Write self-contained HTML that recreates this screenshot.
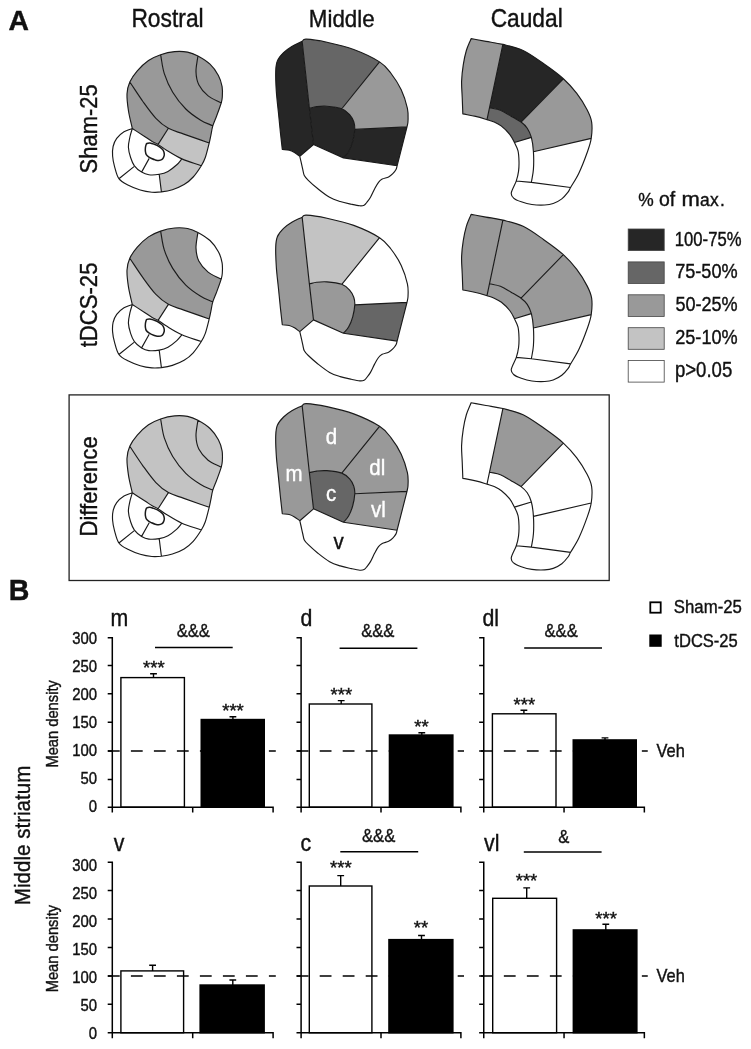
<!DOCTYPE html>
<html><head><meta charset="utf-8"><title>Figure</title>
<style>
html,body{margin:0;padding:0;background:#fff;}
body{width:751px;height:1049px;overflow:hidden;font-family:"Liberation Sans",sans-serif;}
svg{display:block;will-change:transform;}
svg text{font-family:"Liberation Sans",sans-serif;fill:#111;stroke:#111;stroke-width:.4px;}
</style></head><body>
<svg width="751" height="1049" viewBox="0 0 751 1049">
<rect width="751" height="1049" fill="#fff"/>
<!-- Panel A -->
<text x="8.41" y="30.1" font-size="28.3" textLength="20.44" lengthAdjust="spacingAndGlyphs" font-weight="bold">A</text>
<text x="131.42" y="27" font-size="25.08" textLength="72.22" lengthAdjust="spacingAndGlyphs">Rostral</text>
<text x="308.86" y="27" font-size="24.57" textLength="65.81" lengthAdjust="spacingAndGlyphs">Middle</text>
<text x="490.66" y="27" font-size="25.01" textLength="72.05" lengthAdjust="spacingAndGlyphs">Caudal</text>
<text x="97" y="173.39" font-size="24.15" textLength="89.07" lengthAdjust="spacingAndGlyphs" transform="rotate(-90 97 173.39)">Sham-25</text>
<text x="97" y="347.33" font-size="24.32" textLength="84.76" lengthAdjust="spacingAndGlyphs" transform="rotate(-90 97 347.33)">tDCS-25</text>
<text x="96.6" y="536.52" font-size="24.28" textLength="100.21" lengthAdjust="spacingAndGlyphs" transform="rotate(-90 96.6 536.52)">Difference</text>
<rect x="69.1" y="394.9" width="540.1" height="185.6" fill="none" stroke="#222" stroke-width="1.3"/>
<g transform="translate(0 0)">
<path d="M132.3 128.5C131.03 122.67 129.38 116.75 128.5 111C127.62 105.25 126.78 98.83 127 94C127.22 89.17 128.08 85.87 129.8 82C131.52 78.13 134.18 74.38 137.3 70.8C140.42 67.22 144.62 63.18 148.5 60.5C152.38 57.82 156.25 56.18 160.6 54.7C164.95 53.22 170.1 52.03 174.6 51.6C179.1 51.17 183.72 51.37 187.6 52.1C191.48 52.83 194.17 53.98 197.9 56C201.63 58.02 206.58 60.97 210 64.2C213.42 67.43 216.38 71.67 218.4 75.4C220.42 79.13 221.45 83 222.1 86.6C222.75 90.2 222.45 94.27 222.3 97C222.15 99.73 222.12 99.92 221.2 103C220.28 106.08 218.2 111.7 216.8 115.5C215.4 119.3 213.78 122.53 212.8 125.8C211.82 129.07 211.5 132.23 210.9 135.1C210.3 137.97 210.13 139.27 209.2 143C208.27 146.73 206.62 153.72 205.3 157.5C203.98 161.28 203.32 162.45 201.3 165.7C199.28 168.95 196.07 173.85 193.2 177C190.33 180.15 187.57 182.48 184.1 184.6C180.63 186.72 176.18 188.48 172.4 189.7C168.62 190.92 164.82 191.48 161.4 191.9C157.98 192.32 155.43 192.52 151.9 192.2C148.37 191.88 144.12 191.15 140.2 190C136.28 188.85 131.95 187.18 128.4 185.3C124.85 183.42 121.22 181.87 118.9 178.7C116.58 175.53 115.55 170.08 114.5 166.3C113.45 162.52 112.83 159.3 112.6 156C112.37 152.7 112.42 149.43 113.1 146.5C113.78 143.57 114.88 140.85 116.7 138.4C118.52 135.95 121.4 133.45 124 131.8C126.6 130.15 129.53 129.6 132.3 128.5Z" fill="#fff"/>
<path d="M197.9 56C201.63 58.02 206.58 60.97 210 64.2C213.42 67.43 216.38 71.67 218.4 75.4C220.42 79.13 221.45 83 222.1 86.6C222.75 90.2 222.45 94.27 222.3 97C222.15 99.73 222.12 99.92 221.2 103C216.83 100.63 211.83 98.95 208.1 95.9C204.37 92.85 200.82 88.73 198.8 84.7C196.78 80.67 196.15 76.48 196 71.7C195.85 66.92 197.27 61.23 197.9 56Z" fill="#999999"/>
<path d="M160.6 54.7C164.95 53.22 170.1 52.03 174.6 51.6C179.1 51.17 183.72 51.37 187.6 52.1C191.48 52.83 194.17 53.98 197.9 56C197.27 61.23 195.85 66.92 196 71.7C196.15 76.48 196.78 80.67 198.8 84.7C200.82 88.73 204.37 92.85 208.1 95.9C211.83 98.95 216.83 100.63 221.2 103C220.28 106.08 218.2 111.7 216.8 115.5C215.4 119.3 213.78 122.53 212.8 125.8C208.77 123.93 205.2 123 200.7 120.2C196.2 117.4 190.47 113.67 185.8 109C181.13 104.33 176.28 98.1 172.7 92.2C169.12 86.3 166.32 79.85 164.3 73.6C162.28 67.35 161.83 61 160.6 54.7Z" fill="#999999"/>
<path d="M129.8 82C131.52 78.13 134.18 74.38 137.3 70.8C140.42 67.22 144.62 63.18 148.5 60.5C152.38 57.82 156.25 56.18 160.6 54.7C161.83 61 162.28 67.35 164.3 73.6C166.32 79.85 169.12 86.3 172.7 92.2C176.28 98.1 181.13 104.33 185.8 109C190.47 113.67 196.2 117.4 200.7 120.2C205.2 123 208.77 123.93 212.8 125.8C211.82 129.07 211.5 132.23 210.9 135.1C210.3 137.97 210.13 139.27 209.2 143C200.77 140.03 190.7 136.55 183.9 134.1C177.1 131.65 173.07 130.93 168.4 128.3C163.73 125.67 160.15 122.77 155.9 118.3C151.65 113.83 147.25 107.55 142.9 101.5C138.55 95.45 134.17 88.5 129.8 82Z" fill="#999999"/>
<path d="M132.3 128.5C131.03 122.67 129.38 116.75 128.5 111C127.62 105.25 126.78 98.83 127 94C127.22 89.17 128.08 85.87 129.8 82C134.17 88.5 138.55 95.45 142.9 101.5C147.25 107.55 151.65 113.83 155.9 118.3C160.15 122.77 163.73 125.67 168.4 128.3L158.1 144.4C155.65 142.92 153.98 142.58 151.8 141.3C149.62 140.02 148.25 138.83 145 136.7C141.75 134.57 136.53 131.23 132.3 128.5Z" fill="#999999"/>
<path d="M168.4 128.3C173.07 130.93 177.1 131.65 183.9 134.1C190.7 136.55 200.77 140.03 209.2 143C208.27 146.73 206.62 153.72 205.3 157.5C203.98 161.28 203.32 162.45 201.3 165.7C194.83 163.43 187.7 161.48 181.9 158.9C176.1 156.32 170.47 152.62 166.5 150.2C162.53 147.78 160.55 145.88 158.1 144.4Z" fill="#c3c3c3"/>
<path d="M201.3 165.7C199.28 168.95 196.07 173.85 193.2 177C190.33 180.15 187.57 182.48 184.1 184.6C180.63 186.72 176.18 188.48 172.4 189.7C168.62 190.92 164.82 191.48 161.4 191.9L159.2 174.3C162.38 173.73 165.07 172.98 168 171.4C170.93 169.82 174.48 166.88 176.8 164.8C179.12 162.72 180.2 160.87 181.9 158.9C187.7 161.48 194.83 163.43 201.3 165.7Z" fill="#c3c3c3"/>
<path d="M132.3 128.5C131.03 122.67 129.38 116.75 128.5 111C127.62 105.25 126.78 98.83 127 94C127.22 89.17 128.08 85.87 129.8 82C131.52 78.13 134.18 74.38 137.3 70.8C140.42 67.22 144.62 63.18 148.5 60.5C152.38 57.82 156.25 56.18 160.6 54.7C164.95 53.22 170.1 52.03 174.6 51.6C179.1 51.17 183.72 51.37 187.6 52.1C191.48 52.83 194.17 53.98 197.9 56C201.63 58.02 206.58 60.97 210 64.2C213.42 67.43 216.38 71.67 218.4 75.4C220.42 79.13 221.45 83 222.1 86.6C222.75 90.2 222.45 94.27 222.3 97C222.15 99.73 222.12 99.92 221.2 103C220.28 106.08 218.2 111.7 216.8 115.5C215.4 119.3 213.78 122.53 212.8 125.8C211.82 129.07 211.5 132.23 210.9 135.1C210.3 137.97 210.13 139.27 209.2 143C208.27 146.73 206.62 153.72 205.3 157.5C203.98 161.28 203.32 162.45 201.3 165.7C199.28 168.95 196.07 173.85 193.2 177C190.33 180.15 187.57 182.48 184.1 184.6C180.63 186.72 176.18 188.48 172.4 189.7C168.62 190.92 164.82 191.48 161.4 191.9C157.98 192.32 155.43 192.52 151.9 192.2C148.37 191.88 144.12 191.15 140.2 190C136.28 188.85 131.95 187.18 128.4 185.3C124.85 183.42 121.22 181.87 118.9 178.7C116.58 175.53 115.55 170.08 114.5 166.3C113.45 162.52 112.83 159.3 112.6 156C112.37 152.7 112.42 149.43 113.1 146.5C113.78 143.57 114.88 140.85 116.7 138.4C118.52 135.95 121.4 133.45 124 131.8C126.6 130.15 129.53 129.6 132.3 128.5M197.9 56C197.27 61.23 195.85 66.92 196 71.7C196.15 76.48 196.78 80.67 198.8 84.7C200.82 88.73 204.37 92.85 208.1 95.9C211.83 98.95 216.83 100.63 221.2 103M160.6 54.7C161.83 61 162.28 67.35 164.3 73.6C166.32 79.85 169.12 86.3 172.7 92.2C176.28 98.1 181.13 104.33 185.8 109C190.47 113.67 196.2 117.4 200.7 120.2C205.2 123 208.77 123.93 212.8 125.8M129.8 82C134.17 88.5 138.55 95.45 142.9 101.5C147.25 107.55 151.65 113.83 155.9 118.3C160.15 122.77 163.73 125.67 168.4 128.3C173.07 130.93 177.1 131.65 183.9 134.1C190.7 136.55 200.77 140.03 209.2 143M132.3 128.5C136.53 131.23 141.75 134.57 145 136.7C148.25 138.83 149.62 140.02 151.8 141.3C153.98 142.58 155.65 142.92 158.1 144.4C160.55 145.88 162.53 147.78 166.5 150.2C170.47 152.62 176.1 156.32 181.9 158.9C187.7 161.48 194.83 163.43 201.3 165.7M132.3 128.5C131.5 131.33 130.55 133.88 129.9 137C129.25 140.12 128.28 143.78 128.4 147.2C128.52 150.62 129.6 154.4 130.6 157.5C131.6 160.6 132.57 163.37 134.4 165.8C136.23 168.23 139.18 170.6 141.6 172.1C144.02 173.6 145.97 174.43 148.9 174.8C151.83 175.17 156.02 174.87 159.2 174.3C162.38 173.73 165.07 172.98 168 171.4C170.93 169.82 174.48 166.88 176.8 164.8C179.12 162.72 180.2 160.87 181.9 158.9M168.4 128.3L158.1 144.4M118.9 178.7L134 166.6M141.6 172.1L149.2 158.4M159.2 174.3L161.4 191.9" fill="none" stroke="#1a1a1a" stroke-width="1.15" stroke-linejoin="round"/>
<path d="M146.9 143.5C147.53 143.17 148.75 142.93 149.8 143C150.85 143.07 152 143.52 153.2 143.9C154.4 144.28 155.77 144.67 157 145.3C158.23 145.93 159.58 146.9 160.6 147.7C161.62 148.5 162.48 149.03 163.1 150.1C163.72 151.17 164.22 152.9 164.3 154.1C164.38 155.3 163.97 156.42 163.6 157.3C163.23 158.18 162.9 158.87 162.1 159.4C161.3 159.93 159.95 160.42 158.8 160.5C157.65 160.58 156.4 160.23 155.2 159.9C154 159.57 152.65 158.97 151.6 158.5C150.55 158.03 149.78 157.75 148.9 157.1C148.02 156.45 146.88 155.55 146.3 154.6C145.72 153.65 145.55 152.53 145.4 151.4C145.25 150.27 145.3 148.87 145.4 147.8C145.5 146.73 145.75 145.72 146 145C146.25 144.28 146.27 143.83 146.9 143.5Z" fill="#fff" stroke="#1a1a1a" stroke-width="1.5"/>
</g>
<g transform="translate(0 367.7) scale(1 0.9950) translate(0 -192)">
<path d="M132.3 128.5C131.03 122.67 129.38 116.75 128.5 111C127.62 105.25 126.78 98.83 127 94C127.22 89.17 128.08 85.87 129.8 82C131.52 78.13 134.18 74.38 137.3 70.8C140.42 67.22 144.62 63.18 148.5 60.5C152.38 57.82 156.25 56.18 160.6 54.7C164.95 53.22 170.1 52.03 174.6 51.6C179.1 51.17 183.72 51.37 187.6 52.1C191.48 52.83 194.17 53.98 197.9 56C201.63 58.02 206.58 60.97 210 64.2C213.42 67.43 216.38 71.67 218.4 75.4C220.42 79.13 221.45 83 222.1 86.6C222.75 90.2 222.45 94.27 222.3 97C222.15 99.73 222.12 99.92 221.2 103C220.28 106.08 218.2 111.7 216.8 115.5C215.4 119.3 213.78 122.53 212.8 125.8C211.82 129.07 211.5 132.23 210.9 135.1C210.3 137.97 210.13 139.27 209.2 143C208.27 146.73 206.62 153.72 205.3 157.5C203.98 161.28 203.32 162.45 201.3 165.7C199.28 168.95 196.07 173.85 193.2 177C190.33 180.15 187.57 182.48 184.1 184.6C180.63 186.72 176.18 188.48 172.4 189.7C168.62 190.92 164.82 191.48 161.4 191.9C157.98 192.32 155.43 192.52 151.9 192.2C148.37 191.88 144.12 191.15 140.2 190C136.28 188.85 131.95 187.18 128.4 185.3C124.85 183.42 121.22 181.87 118.9 178.7C116.58 175.53 115.55 170.08 114.5 166.3C113.45 162.52 112.83 159.3 112.6 156C112.37 152.7 112.42 149.43 113.1 146.5C113.78 143.57 114.88 140.85 116.7 138.4C118.52 135.95 121.4 133.45 124 131.8C126.6 130.15 129.53 129.6 132.3 128.5Z" fill="#fff"/>
<path d="M160.6 54.7C164.95 53.22 170.1 52.03 174.6 51.6C179.1 51.17 183.72 51.37 187.6 52.1C191.48 52.83 194.17 53.98 197.9 56C197.27 61.23 195.85 66.92 196 71.7C196.15 76.48 196.78 80.67 198.8 84.7C200.82 88.73 204.37 92.85 208.1 95.9C211.83 98.95 216.83 100.63 221.2 103C220.28 106.08 218.2 111.7 216.8 115.5C215.4 119.3 213.78 122.53 212.8 125.8C208.77 123.93 205.2 123 200.7 120.2C196.2 117.4 190.47 113.67 185.8 109C181.13 104.33 176.28 98.1 172.7 92.2C169.12 86.3 166.32 79.85 164.3 73.6C162.28 67.35 161.83 61 160.6 54.7Z" fill="#999999"/>
<path d="M129.8 82C131.52 78.13 134.18 74.38 137.3 70.8C140.42 67.22 144.62 63.18 148.5 60.5C152.38 57.82 156.25 56.18 160.6 54.7C161.83 61 162.28 67.35 164.3 73.6C166.32 79.85 169.12 86.3 172.7 92.2C176.28 98.1 181.13 104.33 185.8 109C190.47 113.67 196.2 117.4 200.7 120.2C205.2 123 208.77 123.93 212.8 125.8C211.82 129.07 211.5 132.23 210.9 135.1C210.3 137.97 210.13 139.27 209.2 143C200.77 140.03 190.7 136.55 183.9 134.1C177.1 131.65 173.07 130.93 168.4 128.3C163.73 125.67 160.15 122.77 155.9 118.3C151.65 113.83 147.25 107.55 142.9 101.5C138.55 95.45 134.17 88.5 129.8 82Z" fill="#999999"/>
<path d="M132.3 128.5C131.03 122.67 129.38 116.75 128.5 111C127.62 105.25 126.78 98.83 127 94C127.22 89.17 128.08 85.87 129.8 82C134.17 88.5 138.55 95.45 142.9 101.5C147.25 107.55 151.65 113.83 155.9 118.3C160.15 122.77 163.73 125.67 168.4 128.3L158.1 144.4C155.65 142.92 153.98 142.58 151.8 141.3C149.62 140.02 148.25 138.83 145 136.7C141.75 134.57 136.53 131.23 132.3 128.5Z" fill="#c3c3c3"/>
<path d="M132.3 128.5C131.03 122.67 129.38 116.75 128.5 111C127.62 105.25 126.78 98.83 127 94C127.22 89.17 128.08 85.87 129.8 82C131.52 78.13 134.18 74.38 137.3 70.8C140.42 67.22 144.62 63.18 148.5 60.5C152.38 57.82 156.25 56.18 160.6 54.7C164.95 53.22 170.1 52.03 174.6 51.6C179.1 51.17 183.72 51.37 187.6 52.1C191.48 52.83 194.17 53.98 197.9 56C201.63 58.02 206.58 60.97 210 64.2C213.42 67.43 216.38 71.67 218.4 75.4C220.42 79.13 221.45 83 222.1 86.6C222.75 90.2 222.45 94.27 222.3 97C222.15 99.73 222.12 99.92 221.2 103C220.28 106.08 218.2 111.7 216.8 115.5C215.4 119.3 213.78 122.53 212.8 125.8C211.82 129.07 211.5 132.23 210.9 135.1C210.3 137.97 210.13 139.27 209.2 143C208.27 146.73 206.62 153.72 205.3 157.5C203.98 161.28 203.32 162.45 201.3 165.7C199.28 168.95 196.07 173.85 193.2 177C190.33 180.15 187.57 182.48 184.1 184.6C180.63 186.72 176.18 188.48 172.4 189.7C168.62 190.92 164.82 191.48 161.4 191.9C157.98 192.32 155.43 192.52 151.9 192.2C148.37 191.88 144.12 191.15 140.2 190C136.28 188.85 131.95 187.18 128.4 185.3C124.85 183.42 121.22 181.87 118.9 178.7C116.58 175.53 115.55 170.08 114.5 166.3C113.45 162.52 112.83 159.3 112.6 156C112.37 152.7 112.42 149.43 113.1 146.5C113.78 143.57 114.88 140.85 116.7 138.4C118.52 135.95 121.4 133.45 124 131.8C126.6 130.15 129.53 129.6 132.3 128.5M197.9 56C197.27 61.23 195.85 66.92 196 71.7C196.15 76.48 196.78 80.67 198.8 84.7C200.82 88.73 204.37 92.85 208.1 95.9C211.83 98.95 216.83 100.63 221.2 103M160.6 54.7C161.83 61 162.28 67.35 164.3 73.6C166.32 79.85 169.12 86.3 172.7 92.2C176.28 98.1 181.13 104.33 185.8 109C190.47 113.67 196.2 117.4 200.7 120.2C205.2 123 208.77 123.93 212.8 125.8M129.8 82C134.17 88.5 138.55 95.45 142.9 101.5C147.25 107.55 151.65 113.83 155.9 118.3C160.15 122.77 163.73 125.67 168.4 128.3C173.07 130.93 177.1 131.65 183.9 134.1C190.7 136.55 200.77 140.03 209.2 143M132.3 128.5C136.53 131.23 141.75 134.57 145 136.7C148.25 138.83 149.62 140.02 151.8 141.3C153.98 142.58 155.65 142.92 158.1 144.4C160.55 145.88 162.53 147.78 166.5 150.2C170.47 152.62 176.1 156.32 181.9 158.9C187.7 161.48 194.83 163.43 201.3 165.7M132.3 128.5C131.5 131.33 130.55 133.88 129.9 137C129.25 140.12 128.28 143.78 128.4 147.2C128.52 150.62 129.6 154.4 130.6 157.5C131.6 160.6 132.57 163.37 134.4 165.8C136.23 168.23 139.18 170.6 141.6 172.1C144.02 173.6 145.97 174.43 148.9 174.8C151.83 175.17 156.02 174.87 159.2 174.3C162.38 173.73 165.07 172.98 168 171.4C170.93 169.82 174.48 166.88 176.8 164.8C179.12 162.72 180.2 160.87 181.9 158.9M168.4 128.3L158.1 144.4M118.9 178.7L134 166.6M141.6 172.1L149.2 158.4M159.2 174.3L161.4 191.9" fill="none" stroke="#1a1a1a" stroke-width="1.15" stroke-linejoin="round"/>
<path d="M146.9 143.5C147.53 143.17 148.75 142.93 149.8 143C150.85 143.07 152 143.52 153.2 143.9C154.4 144.28 155.77 144.67 157 145.3C158.23 145.93 159.58 146.9 160.6 147.7C161.62 148.5 162.48 149.03 163.1 150.1C163.72 151.17 164.22 152.9 164.3 154.1C164.38 155.3 163.97 156.42 163.6 157.3C163.23 158.18 162.9 158.87 162.1 159.4C161.3 159.93 159.95 160.42 158.8 160.5C157.65 160.58 156.4 160.23 155.2 159.9C154 159.57 152.65 158.97 151.6 158.5C150.55 158.03 149.78 157.75 148.9 157.1C148.02 156.45 146.88 155.55 146.3 154.6C145.72 153.65 145.55 152.53 145.4 151.4C145.25 150.27 145.3 148.87 145.4 147.8C145.5 146.73 145.75 145.72 146 145C146.25 144.28 146.27 143.83 146.9 143.5Z" fill="#fff" stroke="#1a1a1a" stroke-width="1.5"/>
</g>
<g transform="translate(0 364.3)">
<path d="M132.3 128.5C131.03 122.67 129.38 116.75 128.5 111C127.62 105.25 126.78 98.83 127 94C127.22 89.17 128.08 85.87 129.8 82C131.52 78.13 134.18 74.38 137.3 70.8C140.42 67.22 144.62 63.18 148.5 60.5C152.38 57.82 156.25 56.18 160.6 54.7C164.95 53.22 170.1 52.03 174.6 51.6C179.1 51.17 183.72 51.37 187.6 52.1C191.48 52.83 194.17 53.98 197.9 56C201.63 58.02 206.58 60.97 210 64.2C213.42 67.43 216.38 71.67 218.4 75.4C220.42 79.13 221.45 83 222.1 86.6C222.75 90.2 222.45 94.27 222.3 97C222.15 99.73 222.12 99.92 221.2 103C220.28 106.08 218.2 111.7 216.8 115.5C215.4 119.3 213.78 122.53 212.8 125.8C211.82 129.07 211.5 132.23 210.9 135.1C210.3 137.97 210.13 139.27 209.2 143C208.27 146.73 206.62 153.72 205.3 157.5C203.98 161.28 203.32 162.45 201.3 165.7C199.28 168.95 196.07 173.85 193.2 177C190.33 180.15 187.57 182.48 184.1 184.6C180.63 186.72 176.18 188.48 172.4 189.7C168.62 190.92 164.82 191.48 161.4 191.9C157.98 192.32 155.43 192.52 151.9 192.2C148.37 191.88 144.12 191.15 140.2 190C136.28 188.85 131.95 187.18 128.4 185.3C124.85 183.42 121.22 181.87 118.9 178.7C116.58 175.53 115.55 170.08 114.5 166.3C113.45 162.52 112.83 159.3 112.6 156C112.37 152.7 112.42 149.43 113.1 146.5C113.78 143.57 114.88 140.85 116.7 138.4C118.52 135.95 121.4 133.45 124 131.8C126.6 130.15 129.53 129.6 132.3 128.5Z" fill="#fff"/>
<path d="M197.9 56C201.63 58.02 206.58 60.97 210 64.2C213.42 67.43 216.38 71.67 218.4 75.4C220.42 79.13 221.45 83 222.1 86.6C222.75 90.2 222.45 94.27 222.3 97C222.15 99.73 222.12 99.92 221.2 103C216.83 100.63 211.83 98.95 208.1 95.9C204.37 92.85 200.82 88.73 198.8 84.7C196.78 80.67 196.15 76.48 196 71.7C195.85 66.92 197.27 61.23 197.9 56Z" fill="#c3c3c3"/>
<path d="M160.6 54.7C164.95 53.22 170.1 52.03 174.6 51.6C179.1 51.17 183.72 51.37 187.6 52.1C191.48 52.83 194.17 53.98 197.9 56C197.27 61.23 195.85 66.92 196 71.7C196.15 76.48 196.78 80.67 198.8 84.7C200.82 88.73 204.37 92.85 208.1 95.9C211.83 98.95 216.83 100.63 221.2 103C220.28 106.08 218.2 111.7 216.8 115.5C215.4 119.3 213.78 122.53 212.8 125.8C208.77 123.93 205.2 123 200.7 120.2C196.2 117.4 190.47 113.67 185.8 109C181.13 104.33 176.28 98.1 172.7 92.2C169.12 86.3 166.32 79.85 164.3 73.6C162.28 67.35 161.83 61 160.6 54.7Z" fill="#c3c3c3"/>
<path d="M129.8 82C131.52 78.13 134.18 74.38 137.3 70.8C140.42 67.22 144.62 63.18 148.5 60.5C152.38 57.82 156.25 56.18 160.6 54.7C161.83 61 162.28 67.35 164.3 73.6C166.32 79.85 169.12 86.3 172.7 92.2C176.28 98.1 181.13 104.33 185.8 109C190.47 113.67 196.2 117.4 200.7 120.2C205.2 123 208.77 123.93 212.8 125.8C211.82 129.07 211.5 132.23 210.9 135.1C210.3 137.97 210.13 139.27 209.2 143C200.77 140.03 190.7 136.55 183.9 134.1C177.1 131.65 173.07 130.93 168.4 128.3C163.73 125.67 160.15 122.77 155.9 118.3C151.65 113.83 147.25 107.55 142.9 101.5C138.55 95.45 134.17 88.5 129.8 82Z" fill="#c3c3c3"/>
<path d="M132.3 128.5C131.03 122.67 129.38 116.75 128.5 111C127.62 105.25 126.78 98.83 127 94C127.22 89.17 128.08 85.87 129.8 82C134.17 88.5 138.55 95.45 142.9 101.5C147.25 107.55 151.65 113.83 155.9 118.3C160.15 122.77 163.73 125.67 168.4 128.3L158.1 144.4C155.65 142.92 153.98 142.58 151.8 141.3C149.62 140.02 148.25 138.83 145 136.7C141.75 134.57 136.53 131.23 132.3 128.5Z" fill="#c3c3c3"/>
<path d="M132.3 128.5C131.03 122.67 129.38 116.75 128.5 111C127.62 105.25 126.78 98.83 127 94C127.22 89.17 128.08 85.87 129.8 82C131.52 78.13 134.18 74.38 137.3 70.8C140.42 67.22 144.62 63.18 148.5 60.5C152.38 57.82 156.25 56.18 160.6 54.7C164.95 53.22 170.1 52.03 174.6 51.6C179.1 51.17 183.72 51.37 187.6 52.1C191.48 52.83 194.17 53.98 197.9 56C201.63 58.02 206.58 60.97 210 64.2C213.42 67.43 216.38 71.67 218.4 75.4C220.42 79.13 221.45 83 222.1 86.6C222.75 90.2 222.45 94.27 222.3 97C222.15 99.73 222.12 99.92 221.2 103C220.28 106.08 218.2 111.7 216.8 115.5C215.4 119.3 213.78 122.53 212.8 125.8C211.82 129.07 211.5 132.23 210.9 135.1C210.3 137.97 210.13 139.27 209.2 143C208.27 146.73 206.62 153.72 205.3 157.5C203.98 161.28 203.32 162.45 201.3 165.7C199.28 168.95 196.07 173.85 193.2 177C190.33 180.15 187.57 182.48 184.1 184.6C180.63 186.72 176.18 188.48 172.4 189.7C168.62 190.92 164.82 191.48 161.4 191.9C157.98 192.32 155.43 192.52 151.9 192.2C148.37 191.88 144.12 191.15 140.2 190C136.28 188.85 131.95 187.18 128.4 185.3C124.85 183.42 121.22 181.87 118.9 178.7C116.58 175.53 115.55 170.08 114.5 166.3C113.45 162.52 112.83 159.3 112.6 156C112.37 152.7 112.42 149.43 113.1 146.5C113.78 143.57 114.88 140.85 116.7 138.4C118.52 135.95 121.4 133.45 124 131.8C126.6 130.15 129.53 129.6 132.3 128.5M197.9 56C197.27 61.23 195.85 66.92 196 71.7C196.15 76.48 196.78 80.67 198.8 84.7C200.82 88.73 204.37 92.85 208.1 95.9C211.83 98.95 216.83 100.63 221.2 103M160.6 54.7C161.83 61 162.28 67.35 164.3 73.6C166.32 79.85 169.12 86.3 172.7 92.2C176.28 98.1 181.13 104.33 185.8 109C190.47 113.67 196.2 117.4 200.7 120.2C205.2 123 208.77 123.93 212.8 125.8M129.8 82C134.17 88.5 138.55 95.45 142.9 101.5C147.25 107.55 151.65 113.83 155.9 118.3C160.15 122.77 163.73 125.67 168.4 128.3C173.07 130.93 177.1 131.65 183.9 134.1C190.7 136.55 200.77 140.03 209.2 143M132.3 128.5C136.53 131.23 141.75 134.57 145 136.7C148.25 138.83 149.62 140.02 151.8 141.3C153.98 142.58 155.65 142.92 158.1 144.4C160.55 145.88 162.53 147.78 166.5 150.2C170.47 152.62 176.1 156.32 181.9 158.9C187.7 161.48 194.83 163.43 201.3 165.7M132.3 128.5C131.5 131.33 130.55 133.88 129.9 137C129.25 140.12 128.28 143.78 128.4 147.2C128.52 150.62 129.6 154.4 130.6 157.5C131.6 160.6 132.57 163.37 134.4 165.8C136.23 168.23 139.18 170.6 141.6 172.1C144.02 173.6 145.97 174.43 148.9 174.8C151.83 175.17 156.02 174.87 159.2 174.3C162.38 173.73 165.07 172.98 168 171.4C170.93 169.82 174.48 166.88 176.8 164.8C179.12 162.72 180.2 160.87 181.9 158.9M168.4 128.3L158.1 144.4M118.9 178.7L134 166.6M141.6 172.1L149.2 158.4M159.2 174.3L161.4 191.9" fill="none" stroke="#1a1a1a" stroke-width="1.15" stroke-linejoin="round"/>
<path d="M146.9 143.5C147.53 143.17 148.75 142.93 149.8 143C150.85 143.07 152 143.52 153.2 143.9C154.4 144.28 155.77 144.67 157 145.3C158.23 145.93 159.58 146.9 160.6 147.7C161.62 148.5 162.48 149.03 163.1 150.1C163.72 151.17 164.22 152.9 164.3 154.1C164.38 155.3 163.97 156.42 163.6 157.3C163.23 158.18 162.9 158.87 162.1 159.4C161.3 159.93 159.95 160.42 158.8 160.5C157.65 160.58 156.4 160.23 155.2 159.9C154 159.57 152.65 158.97 151.6 158.5C150.55 158.03 149.78 157.75 148.9 157.1C148.02 156.45 146.88 155.55 146.3 154.6C145.72 153.65 145.55 152.53 145.4 151.4C145.25 150.27 145.3 148.87 145.4 147.8C145.5 146.73 145.75 145.72 146 145C146.25 144.28 146.27 143.83 146.9 143.5Z" fill="#fff" stroke="#1a1a1a" stroke-width="1.5"/>
</g>
<g transform="translate(0 -175.1)">
<path d="M302.15 216.35C303.53 215.66 302.15 214.12 306.28 214.29C310.41 214.46 319.01 215.66 326.92 217.38C334.83 219.1 344.98 221.34 353.75 224.61C362.52 227.88 373.36 233.04 379.55 236.99C385.74 240.95 387.29 243.7 390.9 248.34C394.51 252.99 398.47 259.01 401.22 264.86C403.97 270.7 406.28 278.27 407.41 283.43C408.55 288.59 408.1 292.72 408.03 295.82C407.97 298.91 407.35 299.94 407 302.01L397.1 340.9C396.73 342.13 396.72 343.28 396 344.6C395.28 345.92 394.03 347.57 392.8 348.8C391.57 350.03 390.37 351.1 388.6 352C386.83 352.9 383.88 353.3 382.2 354.2C380.52 355.1 379.75 355.8 378.5 357.4C377.25 359 376.03 361.32 374.7 363.8C373.37 366.28 371.83 370 370.5 372.3C369.17 374.6 367.77 376.27 366.7 377.6C365.63 378.93 365.25 379.75 364.1 380.3C362.95 380.85 361.93 381.07 359.8 380.9C357.67 380.73 354.57 380.02 351.3 379.3C348.03 378.58 343.82 377.75 340.2 376.6C336.58 375.45 333.32 374.52 329.6 372.4C325.88 370.28 321.45 366.73 317.9 363.9C314.35 361.07 310.57 357.62 308.3 355.4C306.03 353.18 305.22 352.38 304.3 350.6C303.38 348.82 303.37 347.1 302.8 344.7C302.23 342.3 301.4 338.42 300.9 336.2C300.4 333.98 300.17 333 299.8 331.4C298.03 330.13 296.27 328.63 294.5 327.6C292.73 326.57 291.23 325.72 289.2 325.2C287.17 324.68 284.6 324.73 282.3 324.5C281.69 319.07 281.13 314.36 280.48 308.2C279.83 302.04 279.1 294.44 278.42 287.56C277.73 280.68 276.8 273.8 276.35 266.92C275.9 260.04 275.56 251.44 275.73 246.28C275.9 241.12 276.08 239.06 277.38 235.96C278.69 232.86 281.17 230.11 283.58 227.7C285.98 225.3 288.74 223.4 291.83 221.51C294.93 219.62 298.71 218.07 302.15 216.35Z" fill="#fff"/>
<path d="M302.15 216.35L309.38 283.43L313.5 319.55L299.8 331.4C298.03 330.13 296.27 328.63 294.5 327.6C292.73 326.57 291.23 325.72 289.2 325.2C287.17 324.68 284.6 324.73 282.3 324.5C281.69 319.07 281.13 314.36 280.48 308.2C279.83 302.04 279.1 294.44 278.42 287.56C277.73 280.68 276.8 273.8 276.35 266.92C275.9 260.04 275.56 251.44 275.73 246.28C275.9 241.12 276.08 239.06 277.38 235.96C278.69 232.86 281.17 230.11 283.58 227.7C285.98 225.3 288.74 223.4 291.83 221.51C294.93 219.62 298.71 218.07 302.15 216.35Z" fill="#262626"/>
<path d="M302.15 216.35C303.53 215.66 302.15 214.12 306.28 214.29C310.41 214.46 319.01 215.66 326.92 217.38C334.83 219.1 344.98 221.34 353.75 224.61C362.52 227.88 373.36 233.04 379.55 236.99L341.78 283.84C338 282.47 331.12 281.71 326.92 281.37C322.72 281.02 319.52 281.44 316.6 281.78C313.68 282.12 311.78 282.88 309.38 283.43Z" fill="#666666"/>
<path d="M379.55 236.99C385.74 240.95 387.29 243.7 390.9 248.34C394.51 252.99 398.47 259.01 401.22 264.86C403.97 270.7 406.28 278.27 407.41 283.43C408.55 288.59 408.1 292.72 408.03 295.82C407.97 298.91 407.35 299.94 407 302.01L354.78 304.48C354.96 301.22 354.61 299.32 353.75 296.85C352.89 294.37 351.62 291.79 349.62 289.62C347.63 287.46 345.56 285.22 341.78 283.84Z" fill="#999999"/>
<path d="M309.38 283.43C311.78 282.88 313.68 282.12 316.6 281.78C319.52 281.44 322.72 281.02 326.92 281.37C331.12 281.71 338 282.47 341.78 283.84C345.56 285.22 347.63 287.46 349.62 289.62C351.62 291.79 352.89 294.37 353.75 296.85C354.61 299.32 354.96 301.22 354.78 304.48C354.61 307.75 353.75 312.74 352.72 316.46C351.69 320.17 350.14 324.02 348.59 326.78C347.04 329.53 345.15 330.9 343.43 332.97L313.5 319.55Z" fill="#262626"/>
<path d="M354.78 304.48L407 302.01L397.1 340.9L343.43 332.97C345.15 330.9 347.04 329.53 348.59 326.78C350.14 324.02 351.69 320.17 352.72 316.46C353.75 312.74 354.61 307.75 354.78 304.48Z" fill="#262626"/>
<path d="M302.15 216.35C303.53 215.66 302.15 214.12 306.28 214.29C310.41 214.46 319.01 215.66 326.92 217.38C334.83 219.1 344.98 221.34 353.75 224.61C362.52 227.88 373.36 233.04 379.55 236.99C385.74 240.95 387.29 243.7 390.9 248.34C394.51 252.99 398.47 259.01 401.22 264.86C403.97 270.7 406.28 278.27 407.41 283.43C408.55 288.59 408.1 292.72 408.03 295.82C407.97 298.91 407.35 299.94 407 302.01L397.1 340.9C396.73 342.13 396.72 343.28 396 344.6C395.28 345.92 394.03 347.57 392.8 348.8C391.57 350.03 390.37 351.1 388.6 352C386.83 352.9 383.88 353.3 382.2 354.2C380.52 355.1 379.75 355.8 378.5 357.4C377.25 359 376.03 361.32 374.7 363.8C373.37 366.28 371.83 370 370.5 372.3C369.17 374.6 367.77 376.27 366.7 377.6C365.63 378.93 365.25 379.75 364.1 380.3C362.95 380.85 361.93 381.07 359.8 380.9C357.67 380.73 354.57 380.02 351.3 379.3C348.03 378.58 343.82 377.75 340.2 376.6C336.58 375.45 333.32 374.52 329.6 372.4C325.88 370.28 321.45 366.73 317.9 363.9C314.35 361.07 310.57 357.62 308.3 355.4C306.03 353.18 305.22 352.38 304.3 350.6C303.38 348.82 303.37 347.1 302.8 344.7C302.23 342.3 301.4 338.42 300.9 336.2C300.4 333.98 300.17 333 299.8 331.4C298.03 330.13 296.27 328.63 294.5 327.6C292.73 326.57 291.23 325.72 289.2 325.2C287.17 324.68 284.6 324.73 282.3 324.5C281.69 319.07 281.13 314.36 280.48 308.2C279.83 302.04 279.1 294.44 278.42 287.56C277.73 280.68 276.8 273.8 276.35 266.92C275.9 260.04 275.56 251.44 275.73 246.28C275.9 241.12 276.08 239.06 277.38 235.96C278.69 232.86 281.17 230.11 283.58 227.7C285.98 225.3 288.74 223.4 291.83 221.51C294.93 219.62 298.71 218.07 302.15 216.35ZM302.15 216.35L309.38 283.43L313.5 319.55L299.8 331.4M309.38 283.43C311.78 282.88 313.68 282.12 316.6 281.78C319.52 281.44 322.72 281.02 326.92 281.37C331.12 281.71 338 282.47 341.78 283.84C345.56 285.22 347.63 287.46 349.62 289.62C351.62 291.79 352.89 294.37 353.75 296.85C354.61 299.32 354.96 301.22 354.78 304.48C354.61 307.75 353.75 312.74 352.72 316.46C351.69 320.17 350.14 324.02 348.59 326.78C347.04 329.53 345.15 330.9 343.43 332.97L313.5 319.55M379.55 236.99L341.78 283.84M354.78 304.48L407 302.01M343.43 332.97L397.1 340.9" fill="none" stroke="#1a1a1a" stroke-width="1.15" stroke-linejoin="round"/>
</g>
<g transform="translate(0 381) scale(1 0.9950) translate(0 -381)">
<path d="M302.15 216.35C303.53 215.66 302.15 214.12 306.28 214.29C310.41 214.46 319.01 215.66 326.92 217.38C334.83 219.1 344.98 221.34 353.75 224.61C362.52 227.88 373.36 233.04 379.55 236.99C385.74 240.95 387.29 243.7 390.9 248.34C394.51 252.99 398.47 259.01 401.22 264.86C403.97 270.7 406.28 278.27 407.41 283.43C408.55 288.59 408.1 292.72 408.03 295.82C407.97 298.91 407.35 299.94 407 302.01L397.1 340.9C396.73 342.13 396.72 343.28 396 344.6C395.28 345.92 394.03 347.57 392.8 348.8C391.57 350.03 390.37 351.1 388.6 352C386.83 352.9 383.88 353.3 382.2 354.2C380.52 355.1 379.75 355.8 378.5 357.4C377.25 359 376.03 361.32 374.7 363.8C373.37 366.28 371.83 370 370.5 372.3C369.17 374.6 367.77 376.27 366.7 377.6C365.63 378.93 365.25 379.75 364.1 380.3C362.95 380.85 361.93 381.07 359.8 380.9C357.67 380.73 354.57 380.02 351.3 379.3C348.03 378.58 343.82 377.75 340.2 376.6C336.58 375.45 333.32 374.52 329.6 372.4C325.88 370.28 321.45 366.73 317.9 363.9C314.35 361.07 310.57 357.62 308.3 355.4C306.03 353.18 305.22 352.38 304.3 350.6C303.38 348.82 303.37 347.1 302.8 344.7C302.23 342.3 301.4 338.42 300.9 336.2C300.4 333.98 300.17 333 299.8 331.4C298.03 330.13 296.27 328.63 294.5 327.6C292.73 326.57 291.23 325.72 289.2 325.2C287.17 324.68 284.6 324.73 282.3 324.5C281.69 319.07 281.13 314.36 280.48 308.2C279.83 302.04 279.1 294.44 278.42 287.56C277.73 280.68 276.8 273.8 276.35 266.92C275.9 260.04 275.56 251.44 275.73 246.28C275.9 241.12 276.08 239.06 277.38 235.96C278.69 232.86 281.17 230.11 283.58 227.7C285.98 225.3 288.74 223.4 291.83 221.51C294.93 219.62 298.71 218.07 302.15 216.35Z" fill="#fff"/>
<path d="M302.15 216.35L309.38 283.43L313.5 319.55L299.8 331.4C298.03 330.13 296.27 328.63 294.5 327.6C292.73 326.57 291.23 325.72 289.2 325.2C287.17 324.68 284.6 324.73 282.3 324.5C281.69 319.07 281.13 314.36 280.48 308.2C279.83 302.04 279.1 294.44 278.42 287.56C277.73 280.68 276.8 273.8 276.35 266.92C275.9 260.04 275.56 251.44 275.73 246.28C275.9 241.12 276.08 239.06 277.38 235.96C278.69 232.86 281.17 230.11 283.58 227.7C285.98 225.3 288.74 223.4 291.83 221.51C294.93 219.62 298.71 218.07 302.15 216.35Z" fill="#999999"/>
<path d="M302.15 216.35C303.53 215.66 302.15 214.12 306.28 214.29C310.41 214.46 319.01 215.66 326.92 217.38C334.83 219.1 344.98 221.34 353.75 224.61C362.52 227.88 373.36 233.04 379.55 236.99L341.78 283.84C338 282.47 331.12 281.71 326.92 281.37C322.72 281.02 319.52 281.44 316.6 281.78C313.68 282.12 311.78 282.88 309.38 283.43Z" fill="#c3c3c3"/>
<path d="M309.38 283.43C311.78 282.88 313.68 282.12 316.6 281.78C319.52 281.44 322.72 281.02 326.92 281.37C331.12 281.71 338 282.47 341.78 283.84C345.56 285.22 347.63 287.46 349.62 289.62C351.62 291.79 352.89 294.37 353.75 296.85C354.61 299.32 354.96 301.22 354.78 304.48C354.61 307.75 353.75 312.74 352.72 316.46C351.69 320.17 350.14 324.02 348.59 326.78C347.04 329.53 345.15 330.9 343.43 332.97L313.5 319.55Z" fill="#999999"/>
<path d="M354.78 304.48L407 302.01L397.1 340.9L343.43 332.97C345.15 330.9 347.04 329.53 348.59 326.78C350.14 324.02 351.69 320.17 352.72 316.46C353.75 312.74 354.61 307.75 354.78 304.48Z" fill="#666666"/>
<path d="M302.15 216.35C303.53 215.66 302.15 214.12 306.28 214.29C310.41 214.46 319.01 215.66 326.92 217.38C334.83 219.1 344.98 221.34 353.75 224.61C362.52 227.88 373.36 233.04 379.55 236.99C385.74 240.95 387.29 243.7 390.9 248.34C394.51 252.99 398.47 259.01 401.22 264.86C403.97 270.7 406.28 278.27 407.41 283.43C408.55 288.59 408.1 292.72 408.03 295.82C407.97 298.91 407.35 299.94 407 302.01L397.1 340.9C396.73 342.13 396.72 343.28 396 344.6C395.28 345.92 394.03 347.57 392.8 348.8C391.57 350.03 390.37 351.1 388.6 352C386.83 352.9 383.88 353.3 382.2 354.2C380.52 355.1 379.75 355.8 378.5 357.4C377.25 359 376.03 361.32 374.7 363.8C373.37 366.28 371.83 370 370.5 372.3C369.17 374.6 367.77 376.27 366.7 377.6C365.63 378.93 365.25 379.75 364.1 380.3C362.95 380.85 361.93 381.07 359.8 380.9C357.67 380.73 354.57 380.02 351.3 379.3C348.03 378.58 343.82 377.75 340.2 376.6C336.58 375.45 333.32 374.52 329.6 372.4C325.88 370.28 321.45 366.73 317.9 363.9C314.35 361.07 310.57 357.62 308.3 355.4C306.03 353.18 305.22 352.38 304.3 350.6C303.38 348.82 303.37 347.1 302.8 344.7C302.23 342.3 301.4 338.42 300.9 336.2C300.4 333.98 300.17 333 299.8 331.4C298.03 330.13 296.27 328.63 294.5 327.6C292.73 326.57 291.23 325.72 289.2 325.2C287.17 324.68 284.6 324.73 282.3 324.5C281.69 319.07 281.13 314.36 280.48 308.2C279.83 302.04 279.1 294.44 278.42 287.56C277.73 280.68 276.8 273.8 276.35 266.92C275.9 260.04 275.56 251.44 275.73 246.28C275.9 241.12 276.08 239.06 277.38 235.96C278.69 232.86 281.17 230.11 283.58 227.7C285.98 225.3 288.74 223.4 291.83 221.51C294.93 219.62 298.71 218.07 302.15 216.35ZM302.15 216.35L309.38 283.43L313.5 319.55L299.8 331.4M309.38 283.43C311.78 282.88 313.68 282.12 316.6 281.78C319.52 281.44 322.72 281.02 326.92 281.37C331.12 281.71 338 282.47 341.78 283.84C345.56 285.22 347.63 287.46 349.62 289.62C351.62 291.79 352.89 294.37 353.75 296.85C354.61 299.32 354.96 301.22 354.78 304.48C354.61 307.75 353.75 312.74 352.72 316.46C351.69 320.17 350.14 324.02 348.59 326.78C347.04 329.53 345.15 330.9 343.43 332.97L313.5 319.55M379.55 236.99L341.78 283.84M354.78 304.48L407 302.01M343.43 332.97L397.1 340.9" fill="none" stroke="#1a1a1a" stroke-width="1.15" stroke-linejoin="round"/>
</g>
<g transform="translate(0 189.3)">
<path d="M302.15 216.35C303.53 215.66 302.15 214.12 306.28 214.29C310.41 214.46 319.01 215.66 326.92 217.38C334.83 219.1 344.98 221.34 353.75 224.61C362.52 227.88 373.36 233.04 379.55 236.99C385.74 240.95 387.29 243.7 390.9 248.34C394.51 252.99 398.47 259.01 401.22 264.86C403.97 270.7 406.28 278.27 407.41 283.43C408.55 288.59 408.1 292.72 408.03 295.82C407.97 298.91 407.35 299.94 407 302.01L397.1 340.9C396.73 342.13 396.72 343.28 396 344.6C395.28 345.92 394.03 347.57 392.8 348.8C391.57 350.03 390.37 351.1 388.6 352C386.83 352.9 383.88 353.3 382.2 354.2C380.52 355.1 379.75 355.8 378.5 357.4C377.25 359 376.03 361.32 374.7 363.8C373.37 366.28 371.83 370 370.5 372.3C369.17 374.6 367.77 376.27 366.7 377.6C365.63 378.93 365.25 379.75 364.1 380.3C362.95 380.85 361.93 381.07 359.8 380.9C357.67 380.73 354.57 380.02 351.3 379.3C348.03 378.58 343.82 377.75 340.2 376.6C336.58 375.45 333.32 374.52 329.6 372.4C325.88 370.28 321.45 366.73 317.9 363.9C314.35 361.07 310.57 357.62 308.3 355.4C306.03 353.18 305.22 352.38 304.3 350.6C303.38 348.82 303.37 347.1 302.8 344.7C302.23 342.3 301.4 338.42 300.9 336.2C300.4 333.98 300.17 333 299.8 331.4C298.03 330.13 296.27 328.63 294.5 327.6C292.73 326.57 291.23 325.72 289.2 325.2C287.17 324.68 284.6 324.73 282.3 324.5C281.69 319.07 281.13 314.36 280.48 308.2C279.83 302.04 279.1 294.44 278.42 287.56C277.73 280.68 276.8 273.8 276.35 266.92C275.9 260.04 275.56 251.44 275.73 246.28C275.9 241.12 276.08 239.06 277.38 235.96C278.69 232.86 281.17 230.11 283.58 227.7C285.98 225.3 288.74 223.4 291.83 221.51C294.93 219.62 298.71 218.07 302.15 216.35Z" fill="#fff"/>
<path d="M302.15 216.35L309.38 283.43L313.5 319.55L299.8 331.4C298.03 330.13 296.27 328.63 294.5 327.6C292.73 326.57 291.23 325.72 289.2 325.2C287.17 324.68 284.6 324.73 282.3 324.5C281.69 319.07 281.13 314.36 280.48 308.2C279.83 302.04 279.1 294.44 278.42 287.56C277.73 280.68 276.8 273.8 276.35 266.92C275.9 260.04 275.56 251.44 275.73 246.28C275.9 241.12 276.08 239.06 277.38 235.96C278.69 232.86 281.17 230.11 283.58 227.7C285.98 225.3 288.74 223.4 291.83 221.51C294.93 219.62 298.71 218.07 302.15 216.35Z" fill="#999999"/>
<path d="M302.15 216.35C303.53 215.66 302.15 214.12 306.28 214.29C310.41 214.46 319.01 215.66 326.92 217.38C334.83 219.1 344.98 221.34 353.75 224.61C362.52 227.88 373.36 233.04 379.55 236.99L341.78 283.84C338 282.47 331.12 281.71 326.92 281.37C322.72 281.02 319.52 281.44 316.6 281.78C313.68 282.12 311.78 282.88 309.38 283.43Z" fill="#999999"/>
<path d="M379.55 236.99C385.74 240.95 387.29 243.7 390.9 248.34C394.51 252.99 398.47 259.01 401.22 264.86C403.97 270.7 406.28 278.27 407.41 283.43C408.55 288.59 408.1 292.72 408.03 295.82C407.97 298.91 407.35 299.94 407 302.01L354.78 304.48C354.96 301.22 354.61 299.32 353.75 296.85C352.89 294.37 351.62 291.79 349.62 289.62C347.63 287.46 345.56 285.22 341.78 283.84Z" fill="#999999"/>
<path d="M309.38 283.43C311.78 282.88 313.68 282.12 316.6 281.78C319.52 281.44 322.72 281.02 326.92 281.37C331.12 281.71 338 282.47 341.78 283.84C345.56 285.22 347.63 287.46 349.62 289.62C351.62 291.79 352.89 294.37 353.75 296.85C354.61 299.32 354.96 301.22 354.78 304.48C354.61 307.75 353.75 312.74 352.72 316.46C351.69 320.17 350.14 324.02 348.59 326.78C347.04 329.53 345.15 330.9 343.43 332.97L313.5 319.55Z" fill="#666666"/>
<path d="M354.78 304.48L407 302.01L397.1 340.9L343.43 332.97C345.15 330.9 347.04 329.53 348.59 326.78C350.14 324.02 351.69 320.17 352.72 316.46C353.75 312.74 354.61 307.75 354.78 304.48Z" fill="#999999"/>
<path d="M302.15 216.35C303.53 215.66 302.15 214.12 306.28 214.29C310.41 214.46 319.01 215.66 326.92 217.38C334.83 219.1 344.98 221.34 353.75 224.61C362.52 227.88 373.36 233.04 379.55 236.99C385.74 240.95 387.29 243.7 390.9 248.34C394.51 252.99 398.47 259.01 401.22 264.86C403.97 270.7 406.28 278.27 407.41 283.43C408.55 288.59 408.1 292.72 408.03 295.82C407.97 298.91 407.35 299.94 407 302.01L397.1 340.9C396.73 342.13 396.72 343.28 396 344.6C395.28 345.92 394.03 347.57 392.8 348.8C391.57 350.03 390.37 351.1 388.6 352C386.83 352.9 383.88 353.3 382.2 354.2C380.52 355.1 379.75 355.8 378.5 357.4C377.25 359 376.03 361.32 374.7 363.8C373.37 366.28 371.83 370 370.5 372.3C369.17 374.6 367.77 376.27 366.7 377.6C365.63 378.93 365.25 379.75 364.1 380.3C362.95 380.85 361.93 381.07 359.8 380.9C357.67 380.73 354.57 380.02 351.3 379.3C348.03 378.58 343.82 377.75 340.2 376.6C336.58 375.45 333.32 374.52 329.6 372.4C325.88 370.28 321.45 366.73 317.9 363.9C314.35 361.07 310.57 357.62 308.3 355.4C306.03 353.18 305.22 352.38 304.3 350.6C303.38 348.82 303.37 347.1 302.8 344.7C302.23 342.3 301.4 338.42 300.9 336.2C300.4 333.98 300.17 333 299.8 331.4C298.03 330.13 296.27 328.63 294.5 327.6C292.73 326.57 291.23 325.72 289.2 325.2C287.17 324.68 284.6 324.73 282.3 324.5C281.69 319.07 281.13 314.36 280.48 308.2C279.83 302.04 279.1 294.44 278.42 287.56C277.73 280.68 276.8 273.8 276.35 266.92C275.9 260.04 275.56 251.44 275.73 246.28C275.9 241.12 276.08 239.06 277.38 235.96C278.69 232.86 281.17 230.11 283.58 227.7C285.98 225.3 288.74 223.4 291.83 221.51C294.93 219.62 298.71 218.07 302.15 216.35ZM302.15 216.35L309.38 283.43L313.5 319.55L299.8 331.4M309.38 283.43C311.78 282.88 313.68 282.12 316.6 281.78C319.52 281.44 322.72 281.02 326.92 281.37C331.12 281.71 338 282.47 341.78 283.84C345.56 285.22 347.63 287.46 349.62 289.62C351.62 291.79 352.89 294.37 353.75 296.85C354.61 299.32 354.96 301.22 354.78 304.48C354.61 307.75 353.75 312.74 352.72 316.46C351.69 320.17 350.14 324.02 348.59 326.78C347.04 329.53 345.15 330.9 343.43 332.97L313.5 319.55M379.55 236.99L341.78 283.84M354.78 304.48L407 302.01M343.43 332.97L397.1 340.9" fill="none" stroke="#1a1a1a" stroke-width="1.15" stroke-linejoin="round"/>
</g>
<g transform="translate(0 183.6) scale(1 0.9904) translate(0 -360)">
<path d="M471.1 213.67C476.05 214.56 480.66 215.39 485.96 216.35C491.26 217.32 496.69 217.9 502.88 219.45C509.08 221 516.3 222.37 523.11 225.64C529.92 228.91 537.04 234.31 543.75 239.06C550.46 243.8 557.86 249.13 563.36 254.12C568.86 259.11 572.82 263.75 576.78 268.98C580.73 274.21 584.62 280.68 587.09 285.5C589.57 290.31 590.95 293.06 591.64 297.88C592.32 302.7 591.98 309.23 591.22 314.39C590.47 319.55 589.16 322.99 587.09 328.84C585.03 334.69 581.59 343.63 578.84 349.48C576.09 355.33 572.36 360.77 570.58 363.93C568.81 367.08 569.66 366.49 568.2 368.4C566.74 370.31 564.3 373.45 561.8 375.4C559.3 377.35 556.05 379.07 553.2 380.1C550.35 381.13 548.25 381.43 544.7 381.6C541.15 381.77 535.8 381.63 531.9 381.1C528 380.57 524.35 379.48 521.3 378.4C518.25 377.32 515.27 376.12 513.6 374.6C511.93 373.08 510.85 372.18 511.3 369.3C511.75 366.42 515.09 360.97 516.3 357.32C517.51 353.67 518.12 350.79 518.57 347.41C519.02 344.04 519.09 340.53 518.98 337.09C518.88 333.65 518.71 329.87 517.95 326.78C517.19 323.68 515.82 321.27 514.44 318.52C513.07 315.77 511.86 313.02 509.7 310.26C507.53 307.51 504.02 304.07 501.44 302.01C498.86 299.94 496.62 298.98 494.22 297.88C491.81 296.78 490.09 296.37 486.99 295.4C483.9 294.44 479.66 293.06 475.64 292.1C471.62 291.14 467.11 290.45 462.84 289.62C462.64 284.12 462.43 278.62 462.22 273.11C462.02 267.61 461.43 262.1 461.6 256.6C461.78 251.1 462.46 245.25 463.26 240.09C464.05 234.93 465.04 230.04 466.35 225.64C467.66 221.24 469.52 217.66 471.1 213.67Z" fill="#fff"/>
<path d="M471.1 213.67C476.05 214.56 480.66 215.39 485.96 216.35C491.26 217.32 496.69 217.9 502.88 219.45L486.99 295.4C483.9 294.44 479.66 293.06 475.64 292.1C471.62 291.14 467.11 290.45 462.84 289.62C462.64 284.12 462.43 278.62 462.22 273.11C462.02 267.61 461.43 262.1 461.6 256.6C461.78 251.1 462.46 245.25 463.26 240.09C464.05 234.93 465.04 230.04 466.35 225.64C467.66 221.24 469.52 217.66 471.1 213.67Z" fill="#999999"/>
<path d="M502.88 219.45C509.08 221 516.3 222.37 523.11 225.64C529.92 228.91 537.04 234.31 543.75 239.06C550.46 243.8 557.86 249.13 563.36 254.12L521.05 297.88C518.3 295.82 514.17 293.68 510.73 291.69C507.29 289.69 503.95 287.28 500.41 285.91C496.87 284.53 493.13 284.26 489.49 283.43Z" fill="#262626"/>
<path d="M563.36 254.12C568.86 259.11 572.82 263.75 576.78 268.98C580.73 274.21 584.62 280.68 587.09 285.5C589.57 290.31 590.95 293.06 591.64 297.88C592.32 302.7 591.98 309.23 591.22 314.39L533.43 327.81C533.09 322.48 532.4 317.32 531.37 313.36C530.34 309.4 528.96 306.65 527.24 304.07C525.52 301.49 523.8 299.94 521.05 297.88Z" fill="#999999"/>
<path d="M489.49 283.43C493.13 284.26 496.87 284.53 500.41 285.91C503.95 287.28 507.29 289.69 510.73 291.69C514.17 293.68 518.3 295.82 521.05 297.88C523.8 299.94 525.52 301.49 527.24 304.07C528.96 306.65 530.34 309.4 531.37 313.36L514.44 318.52C513.07 315.77 511.86 313.02 509.7 310.26C507.53 307.51 504.02 304.07 501.44 302.01C498.86 299.94 496.62 298.98 494.22 297.88C491.81 296.78 490.09 296.37 486.99 295.4Z" fill="#666666"/>
<path d="M471.1 213.67C476.05 214.56 480.66 215.39 485.96 216.35C491.26 217.32 496.69 217.9 502.88 219.45C509.08 221 516.3 222.37 523.11 225.64C529.92 228.91 537.04 234.31 543.75 239.06C550.46 243.8 557.86 249.13 563.36 254.12C568.86 259.11 572.82 263.75 576.78 268.98C580.73 274.21 584.62 280.68 587.09 285.5C589.57 290.31 590.95 293.06 591.64 297.88C592.32 302.7 591.98 309.23 591.22 314.39C590.47 319.55 589.16 322.99 587.09 328.84C585.03 334.69 581.59 343.63 578.84 349.48C576.09 355.33 572.36 360.77 570.58 363.93C568.81 367.08 569.66 366.49 568.2 368.4C566.74 370.31 564.3 373.45 561.8 375.4C559.3 377.35 556.05 379.07 553.2 380.1C550.35 381.13 548.25 381.43 544.7 381.6C541.15 381.77 535.8 381.63 531.9 381.1C528 380.57 524.35 379.48 521.3 378.4C518.25 377.32 515.27 376.12 513.6 374.6C511.93 373.08 510.85 372.18 511.3 369.3C511.75 366.42 515.09 360.97 516.3 357.32C517.51 353.67 518.12 350.79 518.57 347.41C519.02 344.04 519.09 340.53 518.98 337.09C518.88 333.65 518.71 329.87 517.95 326.78C517.19 323.68 515.82 321.27 514.44 318.52C513.07 315.77 511.86 313.02 509.7 310.26C507.53 307.51 504.02 304.07 501.44 302.01C498.86 299.94 496.62 298.98 494.22 297.88C491.81 296.78 490.09 296.37 486.99 295.4C483.9 294.44 479.66 293.06 475.64 292.1C471.62 291.14 467.11 290.45 462.84 289.62C462.64 284.12 462.43 278.62 462.22 273.11C462.02 267.61 461.43 262.1 461.6 256.6C461.78 251.1 462.46 245.25 463.26 240.09C464.05 234.93 465.04 230.04 466.35 225.64C467.66 221.24 469.52 217.66 471.1 213.67ZM502.88 219.45L486.99 295.4M489.49 283.43C493.13 284.26 496.87 284.53 500.41 285.91C503.95 287.28 507.29 289.69 510.73 291.69C514.17 293.68 518.3 295.82 521.05 297.88C523.8 299.94 525.52 301.49 527.24 304.07C528.96 306.65 530.34 309.4 531.37 313.36C532.4 317.32 533.09 322.48 533.43 327.81C533.78 333.14 533.78 340.19 533.43 345.35C533.09 350.51 532.06 354.29 531.37 358.77M563.36 254.12L521.05 297.88M514.44 318.52L531.37 313.36M533.43 327.81L591.22 314.39M516.3 357.32L531.37 358.77L570.58 363.93" fill="none" stroke="#1a1a1a" stroke-width="1.15" stroke-linejoin="round"/>
</g>
<g transform="translate(0 360) scale(1 0.9950) translate(0 -360)">
<path d="M471.1 213.67C476.05 214.56 480.66 215.39 485.96 216.35C491.26 217.32 496.69 217.9 502.88 219.45C509.08 221 516.3 222.37 523.11 225.64C529.92 228.91 537.04 234.31 543.75 239.06C550.46 243.8 557.86 249.13 563.36 254.12C568.86 259.11 572.82 263.75 576.78 268.98C580.73 274.21 584.62 280.68 587.09 285.5C589.57 290.31 590.95 293.06 591.64 297.88C592.32 302.7 591.98 309.23 591.22 314.39C590.47 319.55 589.16 322.99 587.09 328.84C585.03 334.69 581.59 343.63 578.84 349.48C576.09 355.33 572.36 360.77 570.58 363.93C568.81 367.08 569.66 366.49 568.2 368.4C566.74 370.31 564.3 373.45 561.8 375.4C559.3 377.35 556.05 379.07 553.2 380.1C550.35 381.13 548.25 381.43 544.7 381.6C541.15 381.77 535.8 381.63 531.9 381.1C528 380.57 524.35 379.48 521.3 378.4C518.25 377.32 515.27 376.12 513.6 374.6C511.93 373.08 510.85 372.18 511.3 369.3C511.75 366.42 515.09 360.97 516.3 357.32C517.51 353.67 518.12 350.79 518.57 347.41C519.02 344.04 519.09 340.53 518.98 337.09C518.88 333.65 518.71 329.87 517.95 326.78C517.19 323.68 515.82 321.27 514.44 318.52C513.07 315.77 511.86 313.02 509.7 310.26C507.53 307.51 504.02 304.07 501.44 302.01C498.86 299.94 496.62 298.98 494.22 297.88C491.81 296.78 490.09 296.37 486.99 295.4C483.9 294.44 479.66 293.06 475.64 292.1C471.62 291.14 467.11 290.45 462.84 289.62C462.64 284.12 462.43 278.62 462.22 273.11C462.02 267.61 461.43 262.1 461.6 256.6C461.78 251.1 462.46 245.25 463.26 240.09C464.05 234.93 465.04 230.04 466.35 225.64C467.66 221.24 469.52 217.66 471.1 213.67Z" fill="#fff"/>
<path d="M471.1 213.67C476.05 214.56 480.66 215.39 485.96 216.35C491.26 217.32 496.69 217.9 502.88 219.45L486.99 295.4C483.9 294.44 479.66 293.06 475.64 292.1C471.62 291.14 467.11 290.45 462.84 289.62C462.64 284.12 462.43 278.62 462.22 273.11C462.02 267.61 461.43 262.1 461.6 256.6C461.78 251.1 462.46 245.25 463.26 240.09C464.05 234.93 465.04 230.04 466.35 225.64C467.66 221.24 469.52 217.66 471.1 213.67Z" fill="#999999"/>
<path d="M502.88 219.45C509.08 221 516.3 222.37 523.11 225.64C529.92 228.91 537.04 234.31 543.75 239.06C550.46 243.8 557.86 249.13 563.36 254.12L521.05 297.88C518.3 295.82 514.17 293.68 510.73 291.69C507.29 289.69 503.95 287.28 500.41 285.91C496.87 284.53 493.13 284.26 489.49 283.43Z" fill="#999999"/>
<path d="M563.36 254.12C568.86 259.11 572.82 263.75 576.78 268.98C580.73 274.21 584.62 280.68 587.09 285.5C589.57 290.31 590.95 293.06 591.64 297.88C592.32 302.7 591.98 309.23 591.22 314.39L533.43 327.81C533.09 322.48 532.4 317.32 531.37 313.36C530.34 309.4 528.96 306.65 527.24 304.07C525.52 301.49 523.8 299.94 521.05 297.88Z" fill="#999999"/>
<path d="M489.49 283.43C493.13 284.26 496.87 284.53 500.41 285.91C503.95 287.28 507.29 289.69 510.73 291.69C514.17 293.68 518.3 295.82 521.05 297.88C523.8 299.94 525.52 301.49 527.24 304.07C528.96 306.65 530.34 309.4 531.37 313.36L514.44 318.52C513.07 315.77 511.86 313.02 509.7 310.26C507.53 307.51 504.02 304.07 501.44 302.01C498.86 299.94 496.62 298.98 494.22 297.88C491.81 296.78 490.09 296.37 486.99 295.4Z" fill="#999999"/>
<path d="M471.1 213.67C476.05 214.56 480.66 215.39 485.96 216.35C491.26 217.32 496.69 217.9 502.88 219.45C509.08 221 516.3 222.37 523.11 225.64C529.92 228.91 537.04 234.31 543.75 239.06C550.46 243.8 557.86 249.13 563.36 254.12C568.86 259.11 572.82 263.75 576.78 268.98C580.73 274.21 584.62 280.68 587.09 285.5C589.57 290.31 590.95 293.06 591.64 297.88C592.32 302.7 591.98 309.23 591.22 314.39C590.47 319.55 589.16 322.99 587.09 328.84C585.03 334.69 581.59 343.63 578.84 349.48C576.09 355.33 572.36 360.77 570.58 363.93C568.81 367.08 569.66 366.49 568.2 368.4C566.74 370.31 564.3 373.45 561.8 375.4C559.3 377.35 556.05 379.07 553.2 380.1C550.35 381.13 548.25 381.43 544.7 381.6C541.15 381.77 535.8 381.63 531.9 381.1C528 380.57 524.35 379.48 521.3 378.4C518.25 377.32 515.27 376.12 513.6 374.6C511.93 373.08 510.85 372.18 511.3 369.3C511.75 366.42 515.09 360.97 516.3 357.32C517.51 353.67 518.12 350.79 518.57 347.41C519.02 344.04 519.09 340.53 518.98 337.09C518.88 333.65 518.71 329.87 517.95 326.78C517.19 323.68 515.82 321.27 514.44 318.52C513.07 315.77 511.86 313.02 509.7 310.26C507.53 307.51 504.02 304.07 501.44 302.01C498.86 299.94 496.62 298.98 494.22 297.88C491.81 296.78 490.09 296.37 486.99 295.4C483.9 294.44 479.66 293.06 475.64 292.1C471.62 291.14 467.11 290.45 462.84 289.62C462.64 284.12 462.43 278.62 462.22 273.11C462.02 267.61 461.43 262.1 461.6 256.6C461.78 251.1 462.46 245.25 463.26 240.09C464.05 234.93 465.04 230.04 466.35 225.64C467.66 221.24 469.52 217.66 471.1 213.67ZM502.88 219.45L486.99 295.4M489.49 283.43C493.13 284.26 496.87 284.53 500.41 285.91C503.95 287.28 507.29 289.69 510.73 291.69C514.17 293.68 518.3 295.82 521.05 297.88C523.8 299.94 525.52 301.49 527.24 304.07C528.96 306.65 530.34 309.4 531.37 313.36C532.4 317.32 533.09 322.48 533.43 327.81C533.78 333.14 533.78 340.19 533.43 345.35C533.09 350.51 532.06 354.29 531.37 358.77M563.36 254.12L521.05 297.88M514.44 318.52L531.37 313.36M533.43 327.81L591.22 314.39M516.3 357.32L531.37 358.77L570.58 363.93" fill="none" stroke="#1a1a1a" stroke-width="1.15" stroke-linejoin="round"/>
</g>
<g transform="translate(0 548.4) scale(1 0.9950) translate(0 -360)">
<path d="M471.1 213.67C476.05 214.56 480.66 215.39 485.96 216.35C491.26 217.32 496.69 217.9 502.88 219.45C509.08 221 516.3 222.37 523.11 225.64C529.92 228.91 537.04 234.31 543.75 239.06C550.46 243.8 557.86 249.13 563.36 254.12C568.86 259.11 572.82 263.75 576.78 268.98C580.73 274.21 584.62 280.68 587.09 285.5C589.57 290.31 590.95 293.06 591.64 297.88C592.32 302.7 591.98 309.23 591.22 314.39C590.47 319.55 589.16 322.99 587.09 328.84C585.03 334.69 581.59 343.63 578.84 349.48C576.09 355.33 572.36 360.77 570.58 363.93C568.81 367.08 569.66 366.49 568.2 368.4C566.74 370.31 564.3 373.45 561.8 375.4C559.3 377.35 556.05 379.07 553.2 380.1C550.35 381.13 548.25 381.43 544.7 381.6C541.15 381.77 535.8 381.63 531.9 381.1C528 380.57 524.35 379.48 521.3 378.4C518.25 377.32 515.27 376.12 513.6 374.6C511.93 373.08 510.85 372.18 511.3 369.3C511.75 366.42 515.09 360.97 516.3 357.32C517.51 353.67 518.12 350.79 518.57 347.41C519.02 344.04 519.09 340.53 518.98 337.09C518.88 333.65 518.71 329.87 517.95 326.78C517.19 323.68 515.82 321.27 514.44 318.52C513.07 315.77 511.86 313.02 509.7 310.26C507.53 307.51 504.02 304.07 501.44 302.01C498.86 299.94 496.62 298.98 494.22 297.88C491.81 296.78 490.09 296.37 486.99 295.4C483.9 294.44 479.66 293.06 475.64 292.1C471.62 291.14 467.11 290.45 462.84 289.62C462.64 284.12 462.43 278.62 462.22 273.11C462.02 267.61 461.43 262.1 461.6 256.6C461.78 251.1 462.46 245.25 463.26 240.09C464.05 234.93 465.04 230.04 466.35 225.64C467.66 221.24 469.52 217.66 471.1 213.67Z" fill="#fff"/>
<path d="M502.88 219.45C509.08 221 516.3 222.37 523.11 225.64C529.92 228.91 537.04 234.31 543.75 239.06C550.46 243.8 557.86 249.13 563.36 254.12L521.05 297.88C518.3 295.82 514.17 293.68 510.73 291.69C507.29 289.69 503.95 287.28 500.41 285.91C496.87 284.53 493.13 284.26 489.49 283.43Z" fill="#999999"/>
<path d="M471.1 213.67C476.05 214.56 480.66 215.39 485.96 216.35C491.26 217.32 496.69 217.9 502.88 219.45C509.08 221 516.3 222.37 523.11 225.64C529.92 228.91 537.04 234.31 543.75 239.06C550.46 243.8 557.86 249.13 563.36 254.12C568.86 259.11 572.82 263.75 576.78 268.98C580.73 274.21 584.62 280.68 587.09 285.5C589.57 290.31 590.95 293.06 591.64 297.88C592.32 302.7 591.98 309.23 591.22 314.39C590.47 319.55 589.16 322.99 587.09 328.84C585.03 334.69 581.59 343.63 578.84 349.48C576.09 355.33 572.36 360.77 570.58 363.93C568.81 367.08 569.66 366.49 568.2 368.4C566.74 370.31 564.3 373.45 561.8 375.4C559.3 377.35 556.05 379.07 553.2 380.1C550.35 381.13 548.25 381.43 544.7 381.6C541.15 381.77 535.8 381.63 531.9 381.1C528 380.57 524.35 379.48 521.3 378.4C518.25 377.32 515.27 376.12 513.6 374.6C511.93 373.08 510.85 372.18 511.3 369.3C511.75 366.42 515.09 360.97 516.3 357.32C517.51 353.67 518.12 350.79 518.57 347.41C519.02 344.04 519.09 340.53 518.98 337.09C518.88 333.65 518.71 329.87 517.95 326.78C517.19 323.68 515.82 321.27 514.44 318.52C513.07 315.77 511.86 313.02 509.7 310.26C507.53 307.51 504.02 304.07 501.44 302.01C498.86 299.94 496.62 298.98 494.22 297.88C491.81 296.78 490.09 296.37 486.99 295.4C483.9 294.44 479.66 293.06 475.64 292.1C471.62 291.14 467.11 290.45 462.84 289.62C462.64 284.12 462.43 278.62 462.22 273.11C462.02 267.61 461.43 262.1 461.6 256.6C461.78 251.1 462.46 245.25 463.26 240.09C464.05 234.93 465.04 230.04 466.35 225.64C467.66 221.24 469.52 217.66 471.1 213.67ZM502.88 219.45L486.99 295.4M489.49 283.43C493.13 284.26 496.87 284.53 500.41 285.91C503.95 287.28 507.29 289.69 510.73 291.69C514.17 293.68 518.3 295.82 521.05 297.88C523.8 299.94 525.52 301.49 527.24 304.07C528.96 306.65 530.34 309.4 531.37 313.36C532.4 317.32 533.09 322.48 533.43 327.81C533.78 333.14 533.78 340.19 533.43 345.35C533.09 350.51 532.06 354.29 531.37 358.77M563.36 254.12L521.05 297.88M514.44 318.52L531.37 313.36M533.43 327.81L591.22 314.39M516.3 357.32L531.37 358.77L570.58 363.93" fill="none" stroke="#1a1a1a" stroke-width="1.15" stroke-linejoin="round"/>
</g>
<text x="325.72" y="444.3" font-size="22.55" textLength="11.4" lengthAdjust="spacingAndGlyphs" style="fill:#fff;stroke:#fff">d</text>
<text x="369.29" y="475" font-size="22.55" textLength="15.96" lengthAdjust="spacingAndGlyphs" style="fill:#fff;stroke:#fff">dl</text>
<text x="285.39" y="481" font-size="22.55" textLength="17.08" lengthAdjust="spacingAndGlyphs" style="fill:#fff;stroke:#fff">m</text>
<text x="325.92" y="500.5" font-size="22.55" textLength="10.25" lengthAdjust="spacingAndGlyphs" style="fill:#fff;stroke:#fff">c</text>
<text x="371.09" y="516.6" font-size="22.55" textLength="14.8" lengthAdjust="spacingAndGlyphs" style="fill:#fff;stroke:#fff">vl</text>
<text x="333.48" y="549.4" font-size="22.55" textLength="10.25" lengthAdjust="spacingAndGlyphs">v</text>
<text x="638.19" y="206.3" font-size="19.14" textLength="15.47" lengthAdjust="spacingAndGlyphs">%</text>
<text x="659.07" y="206.3" font-size="19.43" textLength="16.21" lengthAdjust="spacingAndGlyphs">of</text>
<text x="681.41" y="206.3" font-size="20.24" textLength="18.33" lengthAdjust="spacingAndGlyphs">m</text>
<text x="700.06" y="206.3" font-size="19.14" textLength="9.68" lengthAdjust="spacingAndGlyphs">a</text>
<text x="709.98" y="206.3" font-size="19.14" textLength="8.7" lengthAdjust="spacingAndGlyphs">x</text>
<text x="720.09" y="206.3" font-size="19.14" textLength="4.83" lengthAdjust="spacingAndGlyphs">.</text>
<rect x="628.2" y="229" width="36" height="21.6" fill="#262626" stroke="#444" stroke-width="0.8"/>
<text x="674.85" y="245.5" font-size="19.31" textLength="66.64" lengthAdjust="spacingAndGlyphs">100-75%</text>
<rect x="628.2" y="261.9" width="36" height="21.6" fill="#666666" stroke="#444" stroke-width="0.8"/>
<text x="675.15" y="278.4" font-size="21.04" textLength="62.52" lengthAdjust="spacingAndGlyphs">75-50%</text>
<rect x="628.2" y="294.8" width="36" height="21.6" fill="#999999" stroke="#444" stroke-width="0.8"/>
<text x="675.38" y="311.3" font-size="20.96" textLength="62.29" lengthAdjust="spacingAndGlyphs">50-25%</text>
<rect x="628.2" y="327.7" width="36" height="21.6" fill="#c3c3c3" stroke="#444" stroke-width="0.8"/>
<text x="675.19" y="344.2" font-size="21.02" textLength="62.47" lengthAdjust="spacingAndGlyphs">25-10%</text>
<rect x="628.2" y="360.5" width="36" height="21.6" fill="#ffffff" stroke="#444" stroke-width="0.8"/>
<text x="674.89" y="377" font-size="21.57" textLength="57.38" lengthAdjust="spacingAndGlyphs">p&gt;0.05</text>
<!-- Panel B -->
<text x="8.7" y="600.2" font-size="28.6" textLength="20.65" lengthAdjust="spacingAndGlyphs" font-weight="bold">B</text>
<text x="29.6" y="905.2" font-size="22.64" textLength="139.54" lengthAdjust="spacingAndGlyphs" transform="rotate(-90 29.6 905.2)">Middle striatum</text>
<rect x="120.9" y="677.6" width="63.5" height="129.55" fill="#fff" stroke="#000" stroke-width="1.4"/>
<line x1="107.9" y1="751" x2="275.8" y2="751" stroke="#000" stroke-width="1.5" stroke-dasharray="11.8 11.2"/>
<rect x="200.5" y="718.8" width="64.5" height="89.05" fill="#000"/>
<path d="M153.5 677.6V673.8M150.1 673.8H156.9" stroke="#000" stroke-width="1.4" fill="none"/>
<path d="M232.9 719.5V716.8M229.5 716.8H236.3" stroke="#000" stroke-width="1.4" fill="none"/>
<path d="M112.3 637.05V812.55M107.7 807.15H273.85M192.7 807.15V812.55M273.1 807.15V812.55M107.7 779.4H112.3M107.7 751H112.3M107.7 722.3H112.3M107.7 693.8H112.3M107.7 665.6H112.3M107.7 637.8H112.3" stroke="#000" stroke-width="1.5" fill="none"/>
<text x="88.79" y="812" font-size="16.39" textLength="8.29" lengthAdjust="spacingAndGlyphs">0</text>
<text x="80.52" y="784.03" font-size="16.39" textLength="16.57" lengthAdjust="spacingAndGlyphs">50</text>
<text x="72.21" y="756.07" font-size="16.39" textLength="24.86" lengthAdjust="spacingAndGlyphs">100</text>
<text x="72.21" y="728.11" font-size="16.39" textLength="24.86" lengthAdjust="spacingAndGlyphs">150</text>
<text x="72.21" y="700.14" font-size="16.39" textLength="24.86" lengthAdjust="spacingAndGlyphs">200</text>
<text x="72.21" y="672.17" font-size="16.39" textLength="24.86" lengthAdjust="spacingAndGlyphs">250</text>
<text x="72.21" y="644.21" font-size="16.39" textLength="24.86" lengthAdjust="spacingAndGlyphs">300</text>
<text x="57.9" y="767.61" font-size="15.73" textLength="87.46" lengthAdjust="spacingAndGlyphs" transform="rotate(-90 57.9 767.61)">Mean density</text>
<text x="110.46" y="625.85" font-size="23.43" textLength="17.74" lengthAdjust="spacingAndGlyphs">m</text>
<line x1="155" y1="647.5" x2="232.7" y2="647.5" stroke="#000" stroke-width="1.5"/>
<text x="176.71" y="637" font-size="18.26" textLength="33.22" lengthAdjust="spacingAndGlyphs">&amp;&amp;&amp;</text>
<text x="143" y="673.51" font-size="17.95" textLength="21.6" lengthAdjust="spacingAndGlyphs">***</text>
<text x="222.2" y="717.11" font-size="17.95" textLength="21.6" lengthAdjust="spacingAndGlyphs">***</text>
<rect x="309.3" y="704" width="62.6" height="103.15" fill="#fff" stroke="#000" stroke-width="1.4"/>
<line x1="296.7" y1="751" x2="464" y2="751" stroke="#000" stroke-width="1.5" stroke-dasharray="11.8 11.2"/>
<rect x="388.7" y="734.3" width="64.9" height="73.55" fill="#000"/>
<path d="M341.2 704V700.6M337.8 700.6H344.6" stroke="#000" stroke-width="1.4" fill="none"/>
<path d="M421.8 735V732.7M418.4 732.7H425.2" stroke="#000" stroke-width="1.4" fill="none"/>
<path d="M301.1 637.05V812.55M296.5 807.15H461.65M381 807.15V812.55M460.9 807.15V812.55M296.5 779.4H301.1M296.5 751H301.1M296.5 722.3H301.1M296.5 693.8H301.1M296.5 665.6H301.1M296.5 637.8H301.1" stroke="#000" stroke-width="1.5" fill="none"/>
<text x="300.59" y="625.85" font-size="23.43" textLength="11.85" lengthAdjust="spacingAndGlyphs">d</text>
<line x1="339.6" y1="648.2" x2="417.4" y2="648.2" stroke="#000" stroke-width="1.5"/>
<text x="361.21" y="636.7" font-size="18.26" textLength="33.22" lengthAdjust="spacingAndGlyphs">&amp;&amp;&amp;</text>
<text x="330.5" y="701.31" font-size="17.95" textLength="21.6" lengthAdjust="spacingAndGlyphs">***</text>
<text x="414.29" y="732.71" font-size="17.95" textLength="14.4" lengthAdjust="spacingAndGlyphs">**</text>
<rect x="492.4" y="713.8" width="63.6" height="93.35" fill="#fff" stroke="#000" stroke-width="1.4"/>
<line x1="480.85" y1="751" x2="647.75" y2="751" stroke="#000" stroke-width="1.5" stroke-dasharray="11.8 11.2"/>
<rect x="572.5" y="739.2" width="64.5" height="68.65" fill="#000"/>
<path d="M523.9 713.8V710.2M520.5 710.2H527.3" stroke="#000" stroke-width="1.4" fill="none"/>
<path d="M605 739.9V737.9M601.6 737.9H608.4" stroke="#000" stroke-width="1.4" fill="none"/>
<path d="M483.75 637.05V812.55M479.15 807.15H645.1M564.05 807.15V812.55M644.35 807.15V812.55M479.15 779.4H483.75M479.15 751H483.75M479.15 722.3H483.75M479.15 693.8H483.75M479.15 665.6H483.75M479.15 637.8H483.75" stroke="#000" stroke-width="1.5" fill="none"/>
<text x="482.39" y="625.85" font-size="23.43" textLength="16.58" lengthAdjust="spacingAndGlyphs">dl</text>
<line x1="524.2" y1="648.1" x2="602" y2="648.1" stroke="#000" stroke-width="1.5"/>
<text x="544.51" y="636.9" font-size="18.26" textLength="33.22" lengthAdjust="spacingAndGlyphs">&amp;&amp;&amp;</text>
<text x="513.5" y="710.61" font-size="17.95" textLength="21.6" lengthAdjust="spacingAndGlyphs">***</text>
<text x="656.52" y="757.2" font-size="18.04" textLength="28.28" lengthAdjust="spacingAndGlyphs">Veh</text>
<rect x="120.9" y="970.9" width="62.7" height="61.85" fill="#fff" stroke="#000" stroke-width="1.4"/>
<line x1="107.9" y1="975.9" x2="275.8" y2="975.9" stroke="#000" stroke-width="1.5" stroke-dasharray="11.8 11.2"/>
<rect x="199.4" y="984.3" width="65.5" height="49.15" fill="#000"/>
<path d="M152.6 970.9V965.3M149.2 965.3H156" stroke="#000" stroke-width="1.4" fill="none"/>
<path d="M232.8 985V980M229.4 980H236.2" stroke="#000" stroke-width="1.4" fill="none"/>
<path d="M112.3 861.45V1038.15M107.7 1032.75H273.85M192.7 1032.75V1038.15M273.1 1032.75V1038.15M107.7 1004.33H112.3M107.7 975.9H112.3M107.7 947.48H112.3M107.7 919.05H112.3M107.7 890.62H112.3M107.7 862.2H112.3" stroke="#000" stroke-width="1.5" fill="none"/>
<text x="88.79" y="1039.3" font-size="16.39" textLength="8.29" lengthAdjust="spacingAndGlyphs">0</text>
<text x="80.52" y="1011.22" font-size="16.39" textLength="16.57" lengthAdjust="spacingAndGlyphs">50</text>
<text x="72.21" y="983.13" font-size="16.39" textLength="24.86" lengthAdjust="spacingAndGlyphs">100</text>
<text x="72.21" y="955.05" font-size="16.39" textLength="24.86" lengthAdjust="spacingAndGlyphs">150</text>
<text x="72.21" y="926.96" font-size="16.39" textLength="24.86" lengthAdjust="spacingAndGlyphs">200</text>
<text x="72.21" y="898.88" font-size="16.39" textLength="24.86" lengthAdjust="spacingAndGlyphs">250</text>
<text x="72.21" y="870.79" font-size="16.39" textLength="24.86" lengthAdjust="spacingAndGlyphs">300</text>
<text x="57.9" y="992.31" font-size="15.73" textLength="87.46" lengthAdjust="spacingAndGlyphs" transform="rotate(-90 57.9 992.31)">Mean density</text>
<text x="113.79" y="851.45" font-size="23.43" textLength="10.65" lengthAdjust="spacingAndGlyphs">v</text>
<rect x="309.3" y="886" width="62.6" height="146.75" fill="#fff" stroke="#000" stroke-width="1.4"/>
<line x1="296.7" y1="975.9" x2="464" y2="975.9" stroke="#000" stroke-width="1.5" stroke-dasharray="11.8 11.2"/>
<rect x="388.2" y="938.9" width="65.4" height="94.55" fill="#000"/>
<path d="M340.7 886V875.6M337.3 875.6H344.1" stroke="#000" stroke-width="1.4" fill="none"/>
<path d="M421.5 939.6V935.5M418.1 935.5H424.9" stroke="#000" stroke-width="1.4" fill="none"/>
<path d="M301.1 861.45V1038.15M296.5 1032.75H461.65M381 1032.75V1038.15M460.9 1032.75V1038.15M296.5 1004.33H301.1M296.5 975.9H301.1M296.5 947.48H301.1M296.5 919.05H301.1M296.5 890.62H301.1M296.5 862.2H301.1" stroke="#000" stroke-width="1.5" fill="none"/>
<text x="300.59" y="851.45" font-size="23.43" textLength="10.65" lengthAdjust="spacingAndGlyphs">c</text>
<line x1="340.3" y1="851.8" x2="418.2" y2="851.8" stroke="#000" stroke-width="1.5"/>
<text x="362.01" y="842.3" font-size="18.26" textLength="33.22" lengthAdjust="spacingAndGlyphs">&amp;&amp;&amp;</text>
<text x="330" y="874.31" font-size="17.95" textLength="21.6" lengthAdjust="spacingAndGlyphs">***</text>
<text x="413.69" y="933.81" font-size="17.95" textLength="14.4" lengthAdjust="spacingAndGlyphs">**</text>
<rect x="492.7" y="898.3" width="63.9" height="134.45" fill="#fff" stroke="#000" stroke-width="1.4"/>
<line x1="480.85" y1="975.9" x2="647.75" y2="975.9" stroke="#000" stroke-width="1.5" stroke-dasharray="11.8 11.2"/>
<rect x="572.6" y="929.2" width="65" height="104.25" fill="#000"/>
<path d="M526.7 898.3V887.9M523.3 887.9H530.1" stroke="#000" stroke-width="1.4" fill="none"/>
<path d="M605.8 929.9V924.3M602.4 924.3H609.2" stroke="#000" stroke-width="1.4" fill="none"/>
<path d="M483.75 861.45V1038.15M479.15 1032.75H645.1M564.05 1032.75V1038.15M644.35 1032.75V1038.15M479.15 1004.33H483.75M479.15 975.9H483.75M479.15 947.48H483.75M479.15 919.05H483.75M479.15 890.62H483.75M479.15 862.2H483.75" stroke="#000" stroke-width="1.5" fill="none"/>
<text x="484.09" y="851.45" font-size="23.43" textLength="15.38" lengthAdjust="spacingAndGlyphs">vl</text>
<line x1="523.8" y1="852.1" x2="601.6" y2="852.1" stroke="#000" stroke-width="1.5"/>
<text x="558.29" y="843" font-size="18.26" textLength="11.07" lengthAdjust="spacingAndGlyphs">&amp;</text>
<text x="515.7" y="887.11" font-size="17.95" textLength="21.6" lengthAdjust="spacingAndGlyphs">***</text>
<text x="595.3" y="924.81" font-size="17.95" textLength="21.6" lengthAdjust="spacingAndGlyphs">***</text>
<text x="656.52" y="982.1" font-size="18.04" textLength="28.28" lengthAdjust="spacingAndGlyphs">Veh</text>
<rect x="650.3" y="602.3" width="10.4" height="10.4" fill="#fff" stroke="#000" stroke-width="1.8"/>
<text x="673.85" y="612.9" font-size="18.44" textLength="68.03" lengthAdjust="spacingAndGlyphs">Sham-25</text>
<rect x="649.3" y="634.5" width="12.4" height="12.3" fill="#000"/>
<text x="674.35" y="646.7" font-size="18.2" textLength="63.44" lengthAdjust="spacingAndGlyphs">tDCS-25</text>
</svg>
</body></html>
